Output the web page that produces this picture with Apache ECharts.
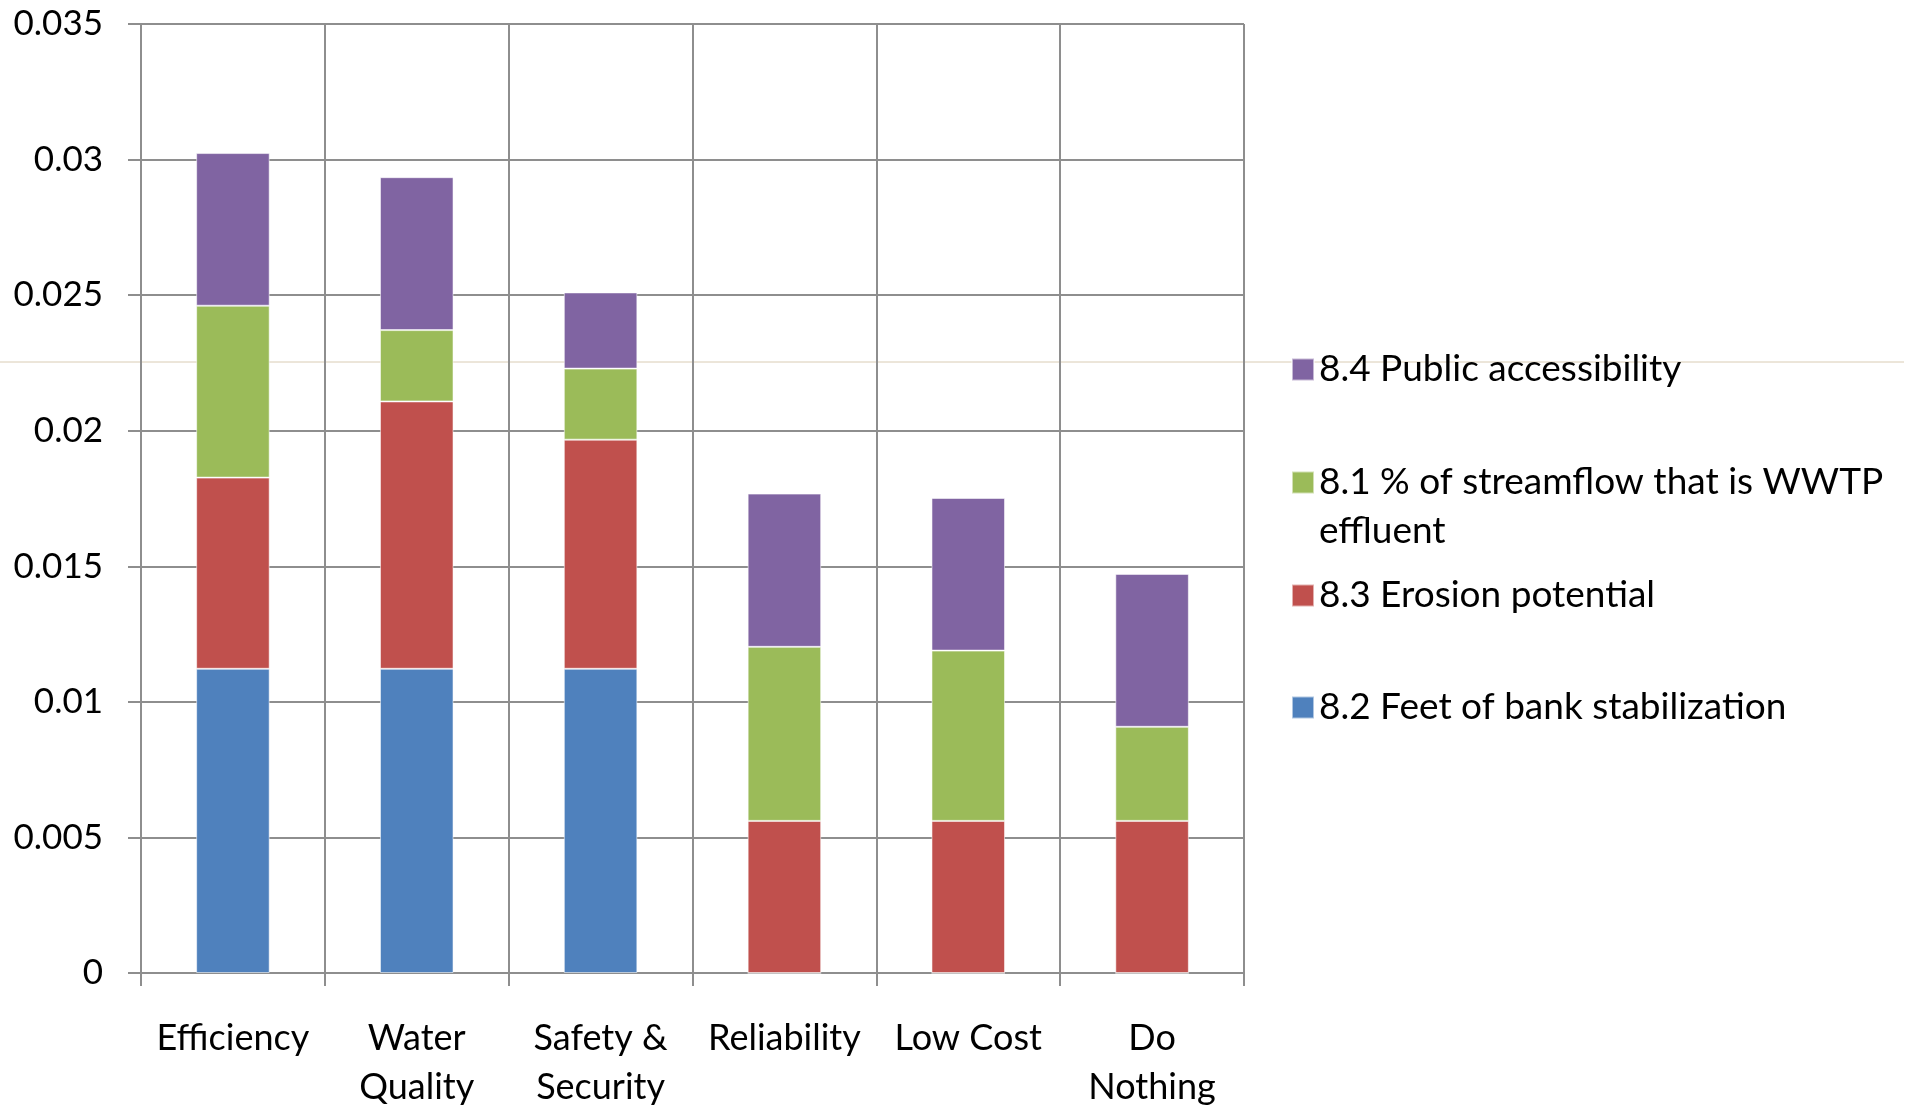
<!DOCTYPE html>
<html>
<head>
<meta charset="utf-8">
<script src="https://cdn.jsdelivr.net/npm/echarts@6/dist/echarts.min.js"></script>
<style>
  html, body { margin: 0; padding: 0; background: #fff; }
  #chart { width: 1908px; height: 1106px; }
</style>
</head>
<body>
<div id="chart"></div>
<script>
// Criteria weights per alternative, stacked by sub-criterion
const categories = ['Efficiency', 'Water\nQuality', 'Safety &\nSecurity', 'Reliability', 'Low Cost', 'Do\nNothing'];
const bankStabilization = [0.01122, 0.01122, 0.01122, 0, 0, 0];          // 8.2
const erosionPotential  = [0.00705, 0.00986, 0.00845, 0.00561, 0.00561, 0.00561]; // 8.3
const wwtpEffluent      = [0.00634, 0.00263, 0.00262, 0.00642, 0.00628, 0.00347]; // 8.1
const publicAccess      = [0.00563, 0.00564, 0.00281, 0.00565, 0.00563, 0.00564]; // 8.4
const yTicks = { min: 0, max: 0.035, interval: 0.005 };

const names = {
  bank: '8.2 Feet of bank stabilization',
  erosion: '8.3 Erosion potential',
  wwtp: '8.1 % of streamflow that is WWTP effluent',
  access: '8.4 Public accessibility'
};
const colors = { bank: '#4F81BD', erosion: '#C0504D', wwtp: '#9BBB59', access: '#8064A2' };

const FONT = 'Lato';
const FONT_SIZE = 36;
const LEGEND_FONT_SIZE = 37;
const LINE_H = 49;
const GRID_COLOR = '#8e8e8e';

function barSeries(name, data, color) {
  return {
    name: name,
    type: 'bar',
    stack: 'total',
    data: data,
    barWidth: '40%',
    itemStyle: { color: color, borderColor: 'rgba(255,255,255,0.55)', borderWidth: 1 },
    emphasis: { disabled: true }
  };
}

// One legend block per entry; a two-line entry gets a tall icon box whose
// square sits beside the first text line.
function legendItem(name, top, lines) {
  const boxH = lines > 1 ? LINE_H * lines : 22;
  const sq0 = (LINE_H - 22) / 2;
  const icon = lines > 1
    ? 'path://M0,0L0,0M0,' + sq0 + 'L22,' + sq0 + 'L22,' + (sq0 + 22) + 'L0,' + (sq0 + 22) + 'ZM22,' + boxH + 'L22,' + boxH
    : 'rect';
  return {
    show: true,
    left: 1291,
    top: top,
    padding: 0,
    itemWidth: 22,
    itemHeight: boxH,
    icon: icon,
    selectedMode: false,
    data: [name],
    formatter: n => n === names.wwtp ? '8.1 % of streamflow that is WWTP\neffluent' : n,
    textStyle: { fontFamily: FONT, fontSize: LEGEND_FONT_SIZE, color: '#000', lineHeight: LINE_H }
  };
}

const chart = echarts.init(document.getElementById('chart'), null, { renderer: 'canvas' });
chart.setOption({
  backgroundColor: '#fff',
  animation: false,
  textStyle: { fontFamily: FONT },
  grid: { left: 141, right: 664, top: 24, bottom: 133, containLabel: false, outerBoundsMode: 'none' },
  legend: [
    legendItem(names.access, 345, 1),
    legendItem(names.wwtp, 457, 2),
    legendItem(names.erosion, 571, 1),
    legendItem(names.bank, 683, 1)
  ],
  graphic: [{
    type: 'line',
    z: -1,
    silent: true,
    shape: { x1: 0, y1: 362, x2: 1904, y2: 362 },
    style: { stroke: '#d9ccb4', lineWidth: 1 }
  }],
  xAxis: {
    type: 'category',
    data: categories,
    axisLine: { show: true, lineStyle: { color: GRID_COLOR, width: 2 } },
    axisTick: { show: true, length: 13, lineStyle: { color: GRID_COLOR, width: 2 } },
    splitLine: { show: true, lineStyle: { color: GRID_COLOR, width: 2 } },
    axisLabel: {
      margin: 41, fontFamily: FONT, fontSize: FONT_SIZE, lineHeight: LINE_H, color: '#000',
      interval: 0, align: 'center'
    }
  },
  yAxis: {
    type: 'value',
    min: yTicks.min, max: yTicks.max, interval: yTicks.interval,
    axisLine: { show: true, lineStyle: { color: GRID_COLOR, width: 2 } },
    axisTick: { show: true, length: 13, lineStyle: { color: GRID_COLOR, width: 2 } },
    splitLine: { show: true, lineStyle: { color: GRID_COLOR, width: 2 } },
    axisLabel: {
      margin: 38, fontFamily: FONT, fontSize: 35, color: '#000',
      formatter: v => String(+v.toFixed(3))
    }
  },
  series: [
    barSeries(names.bank, bankStabilization, colors.bank),
    barSeries(names.erosion, erosionPotential, colors.erosion),
    barSeries(names.wwtp, wwtpEffluent, colors.wwtp),
    barSeries(names.access, publicAccess, colors.access)
  ]
});
</script>
</body>
</html>
